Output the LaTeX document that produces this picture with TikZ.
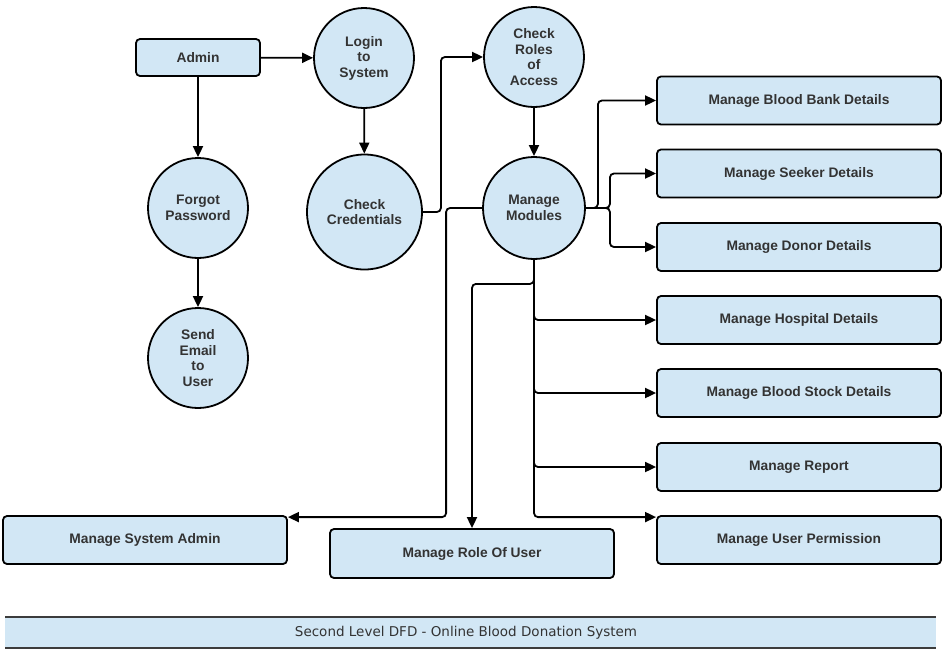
\documentclass[tikz,border=0pt]{standalone}
\usepackage{fontspec}
\setmainfont{Liberation Sans}
\newfontfamily\capfont{DejaVu Sans}
\usetikzlibrary{arrows.meta,calc}
\definecolor{fillblue}{RGB}{210,231,245}
\definecolor{txtgray}{RGB}{51,51,51}
\definecolor{bandline}{RGB}{60,60,60}
\tikzset{
  proc/.style={circle, draw=black, line width=1.8pt, fill=fillblue, text=txtgray,
    font=\fontsize{13.8}{15.5}\selectfont\bfseries, align=center, inner sep=0pt},
  ent/.style={rectangle, rounded corners=4pt, draw=black, line width=1.8pt, fill=fillblue,
    text=txtgray, font=\fontsize{13.8}{15.5}\selectfont\bfseries, align=center, inner sep=0pt},
  conn/.style={draw=black, line width=1.8pt, rounded corners=4pt,
    -{Triangle[length=11pt,width=10pt]}}
}
\begin{document}
\begin{tikzpicture}[x=1pt,y=-1pt]
\useasboundingbox (0,0) rectangle (942,654);
% entities
\node[ent, minimum width=124pt, minimum height=37pt] (admin) at (198,57.5) {Admin};
\node[proc, minimum size=100pt] (login) at (364,58) {Login\\to\\System};
\node[proc, minimum size=100pt] (roles) at (534,57) {Check\\Roles\\of\\Access};
\node[proc, minimum size=115pt] (cred) at (364.5,212) {Check\\Credentials};
\node[proc, minimum size=102pt] (mm) at (534,208) {Manage\\Modules};
\node[proc, minimum size=100pt] (forgot) at (198,208) {Forgot\\Password};
\node[proc, minimum size=100pt] (email) at (198,358) {Send\\Email\\to\\User};
% right boxes
\tikzset{rbox/.style={ent, minimum width=284pt, minimum height=48pt}}
\node[rbox] (bb) at (799,100.5) {Manage Blood Bank Details};
\node[rbox] (seeker) at (799,173.5) {Manage Seeker Details};
\node[rbox] (donor) at (799,247) {Manage Donor Details};
\node[rbox] (hosp) at (799,320) {Manage Hospital Details};
\node[rbox] (stock) at (799,393) {Manage Blood Stock Details};
\node[rbox] (report) at (799,467) {Manage Report};
\node[rbox] (perm) at (799,540) {Manage User Permission};
\node[rbox] (sysadmin) at (145,540) {Manage System Admin};
\node[ent, minimum width=284pt, minimum height=49pt] (roleuser) at (472,553.5) {Manage Role Of User};
% connectors
\draw[conn] (admin) -- (login);
\draw[conn] (admin) -- (forgot);
\draw[conn] (forgot) -- (email);
\draw[conn] (login) -- (cred);
\draw[conn] (cred.east) -- ++(18,0) |- (roles.west);
\draw[conn] (roles) -- (mm);
\draw[conn] (mm.east) -- ++(12,0) |- (bb.west);
\draw[conn] (mm.east) -- ++(24,0) |- (seeker.west);
\draw[conn] (mm.east) -- ++(24,0) |- (donor.west);
\draw[conn] (mm.south) |- (hosp.west);
\draw[conn] (mm.south) |- (stock.west);
\draw[conn] (mm.south) |- (report.west);
\draw[conn] (mm.south) |- ($(perm.north west)+(0,2)$);
\draw[conn] (mm.south) -- ++(0,24) -| (roleuser.north);
\draw[conn] (mm.west) -- ++(-36,0) |- ($(sysadmin.north east)+(0,2)$);
% caption band
\fill[fillblue] (5,617) rectangle (936,648);
\draw[bandline, line width=1.2pt] (5,617) -- (936,617);
\draw[bandline, line width=2.2pt] (5,648) -- (936,648);
\node[text=txtgray, font=\capfont\fontsize{13.5}{15}\selectfont] (cap) at (466,632.5) {Second Level DFD - Online Blood Donation System};
\end{tikzpicture}
\end{document}
